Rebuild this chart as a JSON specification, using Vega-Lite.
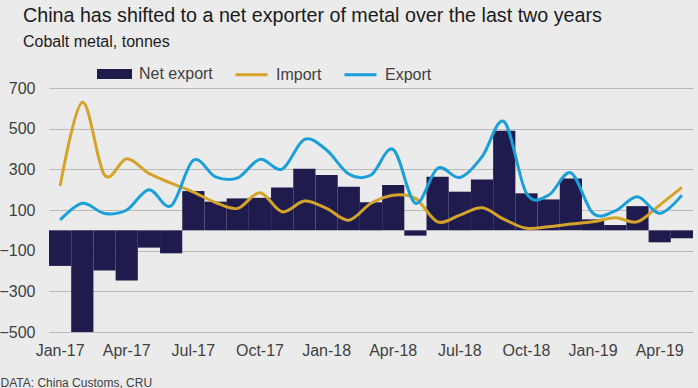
{
  "$schema": "https://vega.github.io/schema/vega-lite/v6.json",
  "width": 644,
  "height": 244,
  "autosize": {"type": "none"},
  "padding": {"left": 49, "top": 88, "right": 5, "bottom": 56},
  "background": "#ebebeb",
  "title": {
    "text": "China has shifted to a net exporter of metal over the last two years",
    "subtitle": "Cobalt metal, tonnes",
    "anchor": "start",
    "frame": "group",
    "dx": -26,
    "fontSize": 19.7,
    "fontWeight": "normal",
    "font": "Liberation Sans",
    "color": "#1a1a1a",
    "subtitleFont": "Liberation Sans",
    "subtitleFontSize": 16,
    "subtitleColor": "#1a1a1a",
    "subtitlePadding": 8,
    "offset": 6
  },
  "config": {
    "view": {"stroke": null},
    "font": "Liberation Sans",
    "axis": {"labelFont": "Liberation Sans", "titleFont": "Liberation Sans"},
    "legend": {"labelFont": "Liberation Sans"}
  },
  "data": {
    "values": [
      {"d": "2017-01-15", "Net": -175, "Import": 218, "Export": 51},
      {"d": "2017-02-15", "Net": -500, "Import": 630, "Export": 133},
      {"d": "2017-03-15", "Net": -198, "Import": 272, "Export": 83},
      {"d": "2017-04-15", "Net": -247, "Import": 352, "Export": 100},
      {"d": "2017-05-15", "Net": -85, "Import": 280, "Export": 200},
      {"d": "2017-06-15", "Net": -113, "Import": 232, "Export": 121},
      {"d": "2017-07-15", "Net": 193, "Import": 188, "Export": 345},
      {"d": "2017-08-15", "Net": 141, "Import": 137, "Export": 263},
      {"d": "2017-09-15", "Net": 157, "Import": 108, "Export": 258},
      {"d": "2017-10-15", "Net": 160, "Import": 185, "Export": 349},
      {"d": "2017-11-15", "Net": 211, "Import": 91, "Export": 301},
      {"d": "2017-12-15", "Net": 303, "Import": 144, "Export": 447},
      {"d": "2018-01-15", "Net": 272, "Import": 108, "Export": 395},
      {"d": "2018-02-15", "Net": 214, "Import": 50, "Export": 277},
      {"d": "2018-03-15", "Net": 138, "Import": 133, "Export": 272},
      {"d": "2018-04-15", "Net": 223, "Import": 173, "Export": 398},
      {"d": "2018-05-15", "Net": -26, "Import": 157, "Export": 133},
      {"d": "2018-06-15", "Net": 263, "Import": 42, "Export": 305},
      {"d": "2018-07-15", "Net": 190, "Import": 75, "Export": 260},
      {"d": "2018-08-15", "Net": 250, "Import": 111, "Export": 362},
      {"d": "2018-09-15", "Net": 490, "Import": 54, "Export": 534},
      {"d": "2018-10-15", "Net": 182, "Import": 10, "Export": 182},
      {"d": "2018-11-15", "Net": 152, "Import": 18, "Export": 173},
      {"d": "2018-12-15", "Net": 255, "Import": 31, "Export": 283},
      {"d": "2019-01-15", "Net": 54, "Import": 42, "Export": 83},
      {"d": "2019-02-15", "Net": 26, "Import": 62, "Export": 96},
      {"d": "2019-03-15", "Net": 119, "Import": 42, "Export": 165},
      {"d": "2019-04-15", "Net": -59, "Import": 124, "Export": 83},
      {"d": "2019-05-15", "Net": -39, "Import": 211, "Export": 173}
    ]
  },
  "encoding": {
    "x": {
      "field": "d",
      "timeUnit": "yearmonth",
      "type": "ordinal",
      "scale": {"paddingInner": 0, "paddingOuter": 0},
      "axis": {
        "labelExpr": "month(datum.value) % 3 === 0 ? timeFormat(datum.value, '%b-%y') : ''",
        "labelAngle": 0,
        "labelFontSize": 16,
        "labelColor": "#404040",
        "labelPadding": 10,
        "ticks": false,
        "domain": false,
        "grid": false,
        "title": "DATA: China Customs, CRU",
        "titleAnchor": "start",
        "titleAlign": "left",
        "titleBaseline": "alphabetic",
        "titleX": -49,
        "titleY": 54,
        "titleFontSize": 12,
        "titleFontWeight": "normal",
        "titleColor": "#404040"
      }
    }
  },
  "layer": [
    {
      "mark": {"type": "bar"},
      "encoding": {
        "y": {
          "field": "Net",
          "type": "quantitative",
          "scale": {"domain": [-500, 700], "nice": false},
          "axis": {
            "values": [-500, -300, -100, 100, 300, 500, 700],
            "title": null,
            "grid": true,
            "gridColor": "#b9b9b9",
            "gridWidth": 1.2,
            "ticks": false,
            "domain": false,
            "labelFontSize": 16,
            "labelColor": "#404040",
            "labelPadding": 14
          }
        },
        "color": {
          "datum": "Net export",
          "type": "nominal",
          "title": null,
          "scale": {
            "domain": ["Net export", "Import", "Export"],
            "range": ["#1f1b4d", "#d4a32a", "#1aa0d8"]
          },
          "legend": {
            "title": null,
            "orient": "none",
            "direction": "horizontal",
            "legendX": 48,
            "legendY": -32,
            "labelFontSize": 16,
            "labelColor": "#404040",
            "symbolSize": 1024,
            "labelOffset": 7,
            "columnPadding": 16,
            "encode": {
              "symbols": {
                "update": {
                  "shape": {"signal": "datum.value === 'Net export' ? 'M-1,-0.22H1V0.22H-1Z' : 'M-1,0H1'"},
                  "fill": {"signal": "datum.value === 'Net export' ? '#1f1b4d' : 'transparent'"},
                  "stroke": {"signal": "datum.value === 'Net export' ? 'transparent' : (datum.value === 'Import' ? '#d4a32a' : '#1aa0d8')"},
                  "strokeWidth": {"value": 3},
                  "opacity": {"value": 1}
                }
              }
            }
          }
        }
      }
    },
    {
      "transform": [{"fold": ["Import", "Export"], "as": ["key", "val"]}],
      "mark": {"type": "line", "interpolate": "cardinal", "strokeWidth": 3},
      "encoding": {
        "y": {"field": "val", "type": "quantitative"},
        "color": {"field": "key", "type": "nominal", "title": null}
      }
    }
  ]
}
